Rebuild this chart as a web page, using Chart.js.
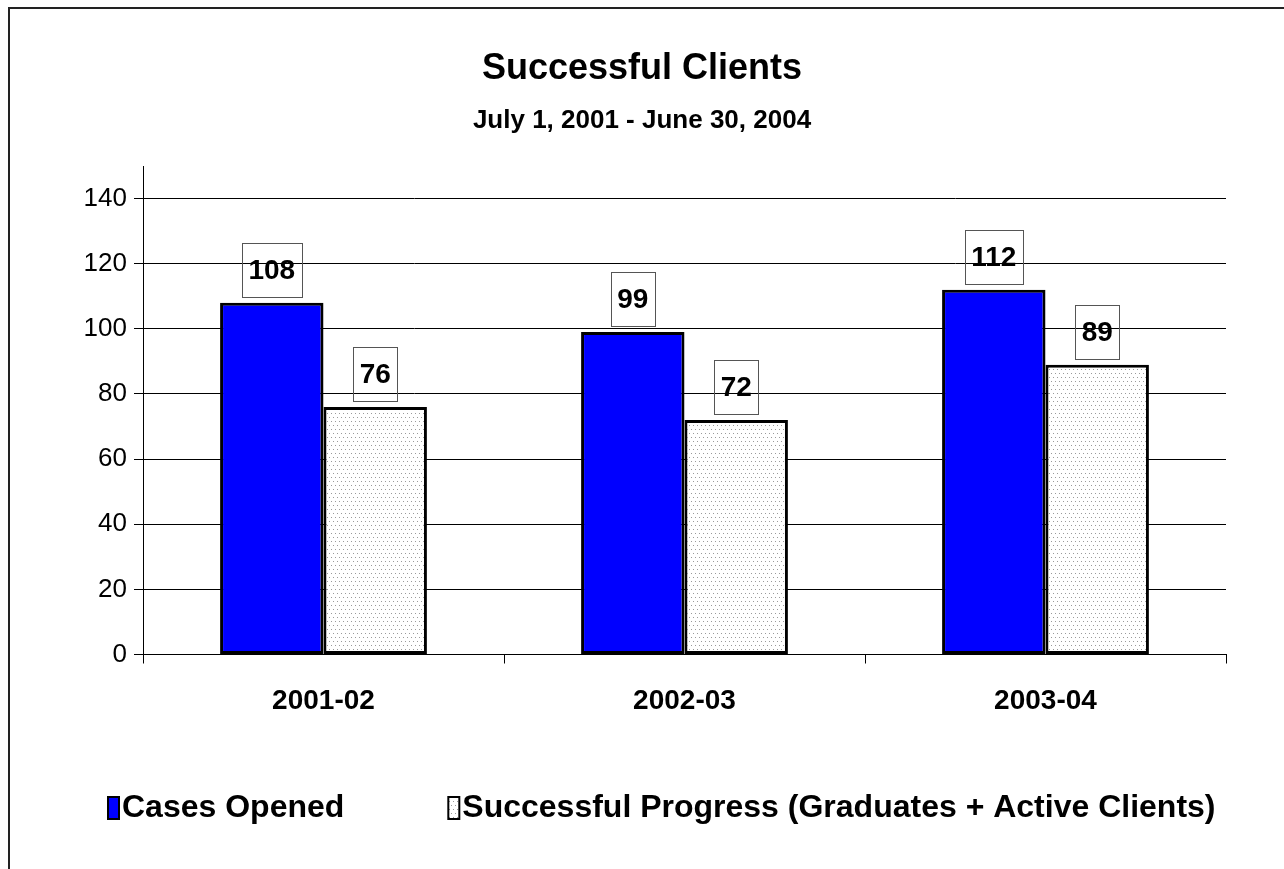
<!DOCTYPE html>
<html>
<head>
<meta charset="utf-8">
<title>Successful Clients</title>
<script src="https://cdn.jsdelivr.net/npm/chart.js@4.4.1/dist/chart.umd.min.js"></script>
<style>
  html, body { margin: 0; padding: 0; background: #fff; }
  #wrap { width: 1284px; height: 869px; }
</style>
</head>
<body>
<div id="wrap"><canvas id="myChart" width="1284" height="869"></canvas></div>
<script>
const years = ['2001-02', '2002-03', '2003-04'];
const casesOpened = [108, 99, 112];
const successfulProgress = [76, 72, 89];
const seriesNames = ['Cases Opened', 'Successful Progress (Graduates + Active Clients)'];
const yTicks = [0, 20, 40, 60, 80, 100, 120, 140];
const titleText = 'Successful Clients';
const subtitleText = 'July 1, 2001 - June 30, 2004';

const FONT = '"Liberation Sans", Arial, sans-serif';
Chart.defaults.font.family = FONT;
Chart.defaults.color = '#000';

const ctx = document.getElementById('myChart').getContext('2d');

// light grey dotted fill like the old Excel pattern
function dotPattern() {
    const c = document.createElement('canvas');
    c.width = 4; c.height = 8;
    const p = c.getContext('2d');
    p.fillStyle = '#fff';
    p.fillRect(0, 0, 4, 8);
    p.fillStyle = '#9a9a9a';
    p.fillRect(1, 1, 1, 1);
    p.fillRect(3, 5, 1, 1);
    return ctx.createPattern(c, 'repeat');
}
const greyDots = dotPattern();

// white page + the cut-off frame on the left and top
const frame = {
    id: 'frame',
    beforeDraw(chart) {
        const c = chart.ctx;
        c.save();
        c.fillStyle = '#fff';
        c.fillRect(0, 0, chart.width, chart.height);
        c.strokeStyle = '#222';
        c.lineWidth = 2;
        c.beginPath();
        c.moveTo(9, chart.height);
        c.lineTo(9, 8);
        c.lineTo(chart.width, 8);
        c.stroke();
        c.restore();
    }
};

// boxed value labels above each bar
const barLabels = {
    id: 'barLabels',
    afterDatasetsDraw(chart) {
        const c = chart.ctx;
        c.save();
        c.font = 'bold 28px ' + FONT;
        c.textAlign = 'center';
        c.textBaseline = 'middle';
        chart.data.datasets.forEach((ds, i) => {
            chart.getDatasetMeta(i).data.forEach((bar, j) => {
                const txt = String(ds.data[j]);
                const w = Math.round(c.measureText(txt).width + 13);
                const h = 54;
                const bottom = Math.round(bar.y - 6);
                const left = Math.round(bar.x - w / 2);
                c.strokeStyle = '#555';
                c.lineWidth = 1;
                c.strokeRect(left + 0.5, bottom - h + 0.5, w, h);
                c.fillStyle = '#000';
                c.fillText(txt, bar.x, bottom - h / 2 + 1);
            });
        });
        c.restore();
    }
};

// legend drawn by hand so the text sits right next to the key
const bottomLegend = {
    id: 'bottomLegend',
    afterDraw(chart) {
        const c = chart.ctx;
        c.save();
        c.font = 'bold 32px ' + FONT;
        c.textBaseline = 'middle';
        c.textAlign = 'left';
        const y = 808;
        let x = chart.chartArea.left - 35;
        chart.data.datasets.forEach((ds, i) => {
            c.fillStyle = ds.backgroundColor;
            c.fillRect(x, y - 11, 11, 22);
            c.strokeStyle = '#000';
            c.lineWidth = 2;
            c.strokeRect(x, y - 11, 11, 22);
            c.fillStyle = '#000';
            c.fillText(ds.label, x + 14, y);
            x += 14 + c.measureText(ds.label).width + 104;
        });
        c.restore();
    }
};

const myChart = new Chart(ctx, {
    type: 'bar',
    data: {
        labels: years,
        datasets: [{
            label: seriesNames[0],
            data: casesOpened,
            backgroundColor: '#0000ff',
            borderColor: '#000',
            borderWidth: 3,
            borderSkipped: false,
            categoryPercentage: 0.573,
            barPercentage: 1
        }, {
            label: seriesNames[1],
            data: successfulProgress,
            backgroundColor: greyDots,
            borderColor: '#000',
            borderWidth: 3,
            borderSkipped: false,
            categoryPercentage: 0.573,
            barPercentage: 1
        }]
    },
    options: {
        responsive: false,
        animation: false,
        devicePixelRatio: 1,
        layout: { padding: { top: 0, left: 0, right: 0, bottom: 154.5 } },
        plugins: {
            legend: { display: false },
            tooltip: { enabled: false },
            title: {
                display: true,
                text: titleText,
                color: '#000',
                font: { size: 36, weight: 'bold', lineHeight: 1.2 },
                padding: { top: 47, bottom: 0 }
            },
            subtitle: {
                display: true,
                text: subtitleText,
                color: '#000',
                font: { size: 26, weight: 'bold', lineHeight: 1.2 },
                padding: { top: 15, bottom: 29.6 }
            }
        },
        scales: {
            x: {
                grid: { drawOnChartArea: false, color: '#000', tickLength: 9, offset: true },
                border: { color: '#000', width: 1 },
                ticks: { color: '#000', font: { size: 28, weight: 'bold' }, padding: 21, maxRotation: 0 },
                afterFit: s => { s.height = 60; }
            },
            y: {
                min: 0,
                max: 150,
                afterBuildTicks: axis => { axis.ticks = yTicks.map(v => ({ value: v })); },
                grid: { color: '#000', lineWidth: 1, tickLength: 9 },
                border: { color: '#000', width: 1 },
                ticks: { color: '#000', font: { size: 26 }, padding: 7 },
                afterFit: s => { s.width = 143; }
            },
            yR: {
                position: 'right',
                grid: { display: false },
                ticks: { display: false },
                border: { display: false },
                afterFit: s => { s.width = 58; }
            }
        }
    },
    plugins: [frame, barLabels, bottomLegend]
});
</script>
</body>
</html>
